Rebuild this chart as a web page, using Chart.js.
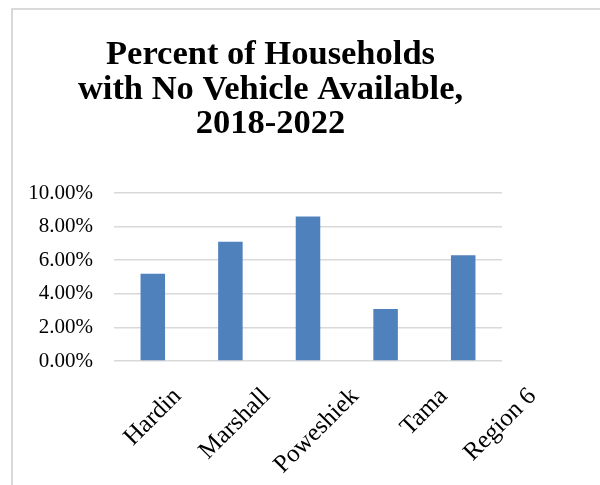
<!DOCTYPE html>
<html>
<head>
<meta charset="utf-8">
<script src="https://cdn.jsdelivr.net/npm/chart.js@4"></script>
<style>
    body { margin: 0; background: #fff; }
    .frame {
        position: absolute; left: 0; top: 0; width: 600px; height: 485px;
    }
    .edge {
        position: absolute; left: 11px; top: 8px; right: 0; bottom: 0;
        border-left: 2px solid #d9d9d9;
        border-top: 2px solid #d9d9d9;
    }
    .chart-box {
        position: absolute; left: 0; top: 0; width: 600px; height: 485px;
    }
</style>
</head>
<body>
<div class="frame">
    <div class="edge"></div>
    <div class="chart-box"><canvas id="vehicleChart"></canvas></div>
</div>
<script>
    const counties = ['Hardin', 'Marshall', 'Poweshiek', 'Tama', 'Region 6'];
    const noVehiclePct = [5.2, 7.1, 8.6, 3.1, 6.3];
    const titleLines = ['Percent of Households', 'with No Vehicle Available,', '2018-2022'];

    // range of the axis that carries the slanted county names
    const nameMin = -0.265;
    const nameMax = 4.107;

    const serif = "'Liberation Serif', 'Times New Roman', serif";

    // nudge the title block so it sits centred over the whole frame
    const titleShift = {
        id: 'titleShift',
        afterLayout(chart) {
            const t = chart.titleBlock;
            if (t) { t.left += 9.5; t.right += 9.5; }
        }
    };

    new Chart(document.getElementById('vehicleChart'), {
        type: 'bar',
        data: {
            labels: counties,
            datasets: [{
                label: 'No vehicle',
                data: noVehiclePct,
                backgroundColor: '#4f81bd',
                categoryPercentage: 1,
                barPercentage: 0.316
            }]
        },
        plugins: [titleShift],
        options: {
            responsive: true,
            maintainAspectRatio: false,
            animation: false,
            layout: {
                padding: { top: 38, right: 98, bottom: 0, left: 20 }
            },
            plugins: {
                legend: { display: false },
                tooltip: { enabled: false },
                title: {
                    display: true,
                    text: titleLines,
                    color: '#000',
                    font: { family: serif, size: 34.5, weight: 'bold', lineHeight: 1.0 },
                    padding: { top: 0, bottom: 51.5 }
                }
            },
            scales: {
                x: {
                    border: { display: false },
                    grid: { display: false, drawTicks: false },
                    ticks: { display: false },
                    afterFit: scale => { scale.height = 0; }
                },
                names: {
                    type: 'linear',
                    position: 'bottom',
                    offset: false,
                    bounds: 'data',
                    min: nameMin,
                    max: nameMax,
                    border: { display: false },
                    grid: { display: false, drawTicks: false, offset: false },
                    afterBuildTicks: scale => {
                        scale.ticks = counties.map((name, i) => ({ value: i }));
                    },
                    afterFit: scale => {
                        scale.height = 124;
                        // let the slanted names hang past the plot edges
                        scale.paddingLeft = 0;
                        scale.paddingRight = 0;
                    },
                    ticks: {
                        autoSkip: false,
                        color: '#000',
                        font: { family: serif, size: 25 },
                        minRotation: 45,
                        maxRotation: 45,
                        labelOffset: 40,
                        padding: 21,
                        callback: (v, i) => counties[i]
                    }
                },
                y: {
                    min: 0,
                    max: 10,
                    border: { display: false },
                    grid: { color: '#d9d9d9', lineWidth: 1.5, drawTicks: false },
                    afterFit: scale => { scale.width = 94; },
                    ticks: {
                        stepSize: 2,
                        color: '#000',
                        padding: 21,
                        font: { family: serif, size: 21 },
                        callback: v => v.toFixed(2) + '%'
                    }
                }
            }
        }
    });
</script>
</body>
</html>
